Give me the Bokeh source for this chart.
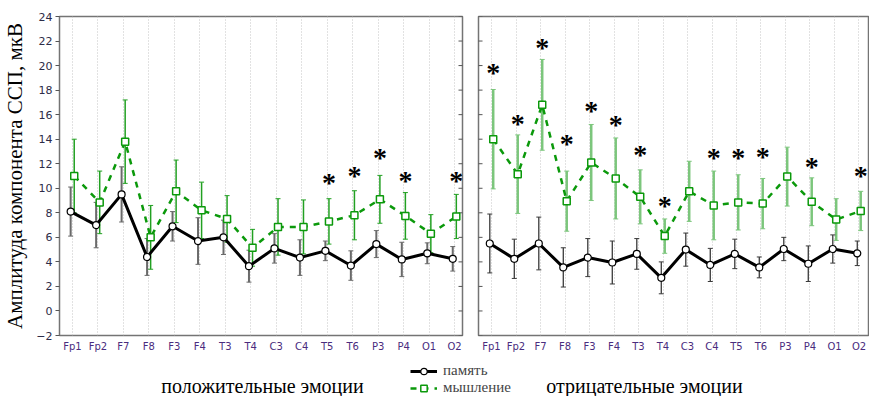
import numpy as np
from bokeh.plotting import figure
from bokeh.models import (ColumnDataSource, Whisker, TeeHead, Range1d, FixedTicker,
                          Label, Legend, LegendItem)
from bokeh.layouts import column, row
from bokeh.embed import file_html
from bokeh.resources import INLINE
from bokeh.core.properties import value

# ---------------- data ----------------
cats = ["Fp1", "Fp2", "F7", "F8", "F3", "F4", "T3", "T4",
        "C3", "C4", "T5", "T6", "P3", "P4", "O1", "O2"]
y_ticks = list(range(-2, 25, 2))

# positive emotions
pos_mem = [8.1, 7.0, 9.5, 4.4, 6.9, 5.7, 6.0, 3.65, 5.1, 4.35, 4.9, 3.7, 5.45, 4.2, 4.7, 4.25]
pos_mem_err = [2.0, 1.85, 2.25, 1.5, 1.2, 1.9, 1.4, 1.3, 1.2, 1.45, 0.8, 1.2, 1.1, 1.4, 0.85, 1.0]
pos_think = [11.0, 8.85, 13.8, 6.0, 9.75, 8.2, 7.5, 5.15, 6.85, 6.85, 7.3, 7.8, 9.1, 7.75, 6.3, 7.7]
pos_think_err = [3.0, 2.55, 3.4, 2.6, 2.55, 2.3, 1.9, 1.5, 2.3, 2.2, 1.85, 2.0, 1.95, 1.9, 1.55, 1.8]
pos_star_cats = ["T5", "T6", "P3", "P4", "O2"]
pos_star_y = [10.8, 11.4, 12.8, 10.95, 10.95]

# negative emotions
neg_mem = [5.5, 4.25, 5.5, 3.55, 4.35, 3.95, 4.65, 2.7, 5.0, 3.75, 4.65, 3.55, 5.05, 3.85, 5.05, 4.7]
neg_mem_err = [2.4, 1.6, 2.15, 1.6, 1.55, 1.75, 1.25, 1.3, 1.35, 1.35, 1.2, 0.85, 0.95, 1.45, 1.15, 1.0]
neg_think = [14.0, 11.15, 16.8, 8.95, 12.1, 10.8, 9.3, 6.1, 9.75, 8.6, 8.85, 8.75, 10.95, 8.9, 7.45, 8.15]
neg_think_err = [4.05, 3.2, 3.7, 2.45, 3.1, 3.3, 2.2, 1.4, 2.45, 2.8, 2.25, 2.05, 2.4, 1.95, 1.7, 1.6]
neg_star_cats = ["Fp1", "Fp2", "F7", "F8", "F3", "F4", "T3", "T4", "C4", "T5", "T6", "P4", "O2"]
neg_star_y = [19.8, 15.6, 21.8, 14.0, 16.65, 15.55, 13.05, 8.95, 12.8, 12.8, 12.9, 12.1, 11.4]

series_names = ["память", "мышление"]
panel_titles = ["положительные эмоции", "отрицательные эмоции"]
y_title = "Амплитуда компонента ССП, мкВ"

GREEN = "#0b990b"
TICK_COLOR = "#2c2c48"
XLAB_COLOR = "#4a2c7e"
SERIF = "Liberation Serif"
SANS = "DejaVu Sans"


def make_panel(mem, mem_err, think, think_err, star_cats, star_y,
               x_start, x_end, width, mb_left, mb_right, first,
               mem_bar_color, mem_bar_w, think_bar_color, think_bar_w):
    p = figure(width=width, height=355, x_range=Range1d(x_start, x_end),
               y_range=Range1d(-2, 24), output_backend="svg", toolbar_location=None,
               min_border_left=mb_left, min_border_right=mb_right,
               min_border_top=16, min_border_bottom=20)
    p.background_fill_color = "white"
    p.border_fill_color = "white"
    p.outline_line_color = "#747474"
    p.outline_line_width = 1.5

    idx = np.arange(len(cats))
    # x axis
    p.xaxis.ticker = FixedTicker(ticks=list(idx))
    p.xaxis.major_label_overrides = {int(i): c for i, c in zip(idx, cats)}
    p.xaxis.major_tick_in = 0
    p.xaxis.major_tick_out = 0
    p.xaxis.minor_tick_line_color = None
    p.xaxis.axis_line_color = None
    p.xaxis.major_label_standoff = 5
    p.xaxis.major_label_text_font = SANS
    p.xaxis.major_label_text_font_size = "10px"
    p.xaxis.major_label_text_color = XLAB_COLOR

    p.xgrid.ticker = FixedTicker(ticks=list(idx))
    p.xgrid.grid_line_color = "#c4c4c4"
    p.xgrid.grid_line_dash = "1 2"
    p.xgrid.grid_line_width = 1
    p.ygrid.visible = False

    # y axis
    if first:
        p.yaxis.ticker = FixedTicker(ticks=y_ticks)
        p.yaxis.minor_tick_line_color = None
        p.yaxis.axis_line_color = None
        p.yaxis.major_tick_line_color = "#555555"
        p.yaxis.major_tick_out = 4
        p.yaxis.major_tick_in = 0
        p.yaxis.major_label_standoff = 3
        p.yaxis.major_label_text_font = SANS
        p.yaxis.major_label_text_font_size = "11px"
        p.yaxis.major_label_text_color = TICK_COLOR
        p.yaxis.axis_label = y_title
        p.yaxis.axis_label_text_font = SERIF
        p.yaxis.axis_label_text_font_size = "21px"
        p.yaxis.axis_label_text_font_style = "normal"
        p.yaxis.axis_label_text_color = "black"
        p.yaxis.axis_label_standoff = 6
        edge = x_end
    else:
        p.yaxis.visible = False
        edge = x_start
    # inner mirror ticks on the side facing the other panel (clipped to frame)
    p.scatter(x=[edge] * len(y_ticks), y=y_ticks, marker="dash", size=8,
              line_color="#555555", line_width=1)

    mem_a = np.array(mem)
    mem_e = np.array(mem_err)
    th_a = np.array(think)
    th_e = np.array(think_err)
    src_m = ColumnDataSource(dict(x=idx - 0.07, y=mem_a, lo=mem_a - mem_e, hi=mem_a + mem_e))
    src_t = ColumnDataSource(dict(x=idx + 0.07, y=th_a, lo=th_a - th_e, hi=th_a + th_e))

    wt = Whisker(source=src_t, base="x", upper="hi", lower="lo", dimension="height",
                 line_color=think_bar_color, line_width=think_bar_w, level="underlay",
                 upper_head=TeeHead(size=5, line_color=think_bar_color, line_width=1),
                 lower_head=TeeHead(size=5, line_color=think_bar_color, line_width=1))
    wm = Whisker(source=src_m, base="x", upper="hi", lower="lo", dimension="height",
                 line_color=mem_bar_color, line_width=mem_bar_w, level="underlay",
                 upper_head=TeeHead(size=5, line_color=mem_bar_color, line_width=1),
                 lower_head=TeeHead(size=5, line_color=mem_bar_color, line_width=1))
    p.add_layout(wt)
    p.add_layout(wm)

    p.line("x", "y", source=src_t, line_color=GREEN, line_width=2.5, line_dash="6 6")
    p.line("x", "y", source=src_m, line_color="black", line_width=3)
    p.scatter("x", "y", source=src_t, marker="square", size=7, fill_color="white",
              line_color=GREEN, line_width=1.5)
    p.scatter("x", "y", source=src_m, marker="circle", size=7, fill_color="white",
              line_color="black", line_width=1.2)

    sx = [cats.index(c) + 0.07 for c in star_cats]
    p.text(x=sx, y=star_y, text=["*"] * len(sx), text_align="center",
           text_baseline="middle", text_font=value(SERIF), text_font_size="28px",
           text_font_style="bold", text_color="black", y_offset=4)
    return p


left = make_panel(pos_mem, pos_mem_err, pos_think, pos_think_err, pos_star_cats, pos_star_y,
                  -0.508, 15.3125, 470, 57, 8, True, "#6a6a6a", 2, "#22a022", 1.5)
right = make_panel(neg_mem, neg_mem_err, neg_think, neg_think_err, neg_star_cats, neg_star_y,
                   -0.531, 15.388, 399, 8, 1, False, "#3a3a3a", 1.3, "#7cc67c", 2.5)

# bottom strip: panel captions and legend
BH = 41
b = figure(width=869, height=BH, x_range=Range1d(0, 1), y_range=Range1d(0, 1),
           output_backend="svg", toolbar_location=None, min_border=0,
           x_axis_type=None, y_axis_type=None)
b.outline_line_color = None
b.grid.visible = False
# legend proxies: their points lie outside the visible range, only the legend shows them
r1 = b.line(x=[-5, -4], y=[-5, -4], line_color="black", line_width=3)
r1b = b.scatter(x=[-5], y=[-5], marker="circle", size=7, fill_color="white",
                line_color="black", line_width=1.2)
r2 = b.line(x=[-5, -4], y=[-5, -4], line_color=GREEN, line_width=2.5, line_dash="6 6")
r2b = b.scatter(x=[-5], y=[-5], marker="square", size=7, fill_color="white",
                line_color=GREEN, line_width=1.5)
legend = Legend(items=[LegendItem(label=series_names[0], renderers=[r1, r1b]),
                       LegendItem(label=series_names[1], renderers=[r2, r2b])],
                location=(410, 0), orientation="vertical",
                label_text_font=SERIF, label_text_font_size="15px",
                glyph_width=27, glyph_height=16, label_height=16, label_standoff=6,
                spacing=0, padding=0, margin=0, border_line_color=None,
                background_fill_alpha=0)
b.add_layout(legend)
for txt, cx in zip(panel_titles, [262, 644]):
    b.add_layout(Label(x=cx, y=11, x_units="screen", y_units="screen", text=txt,
                       text_align="center", text_baseline="middle", text_font=SERIF,
                       text_font_size="20px", text_color="black"))

layout = column(row(left, right), b)
open("out.html", "w").write(file_html(layout, INLINE))
